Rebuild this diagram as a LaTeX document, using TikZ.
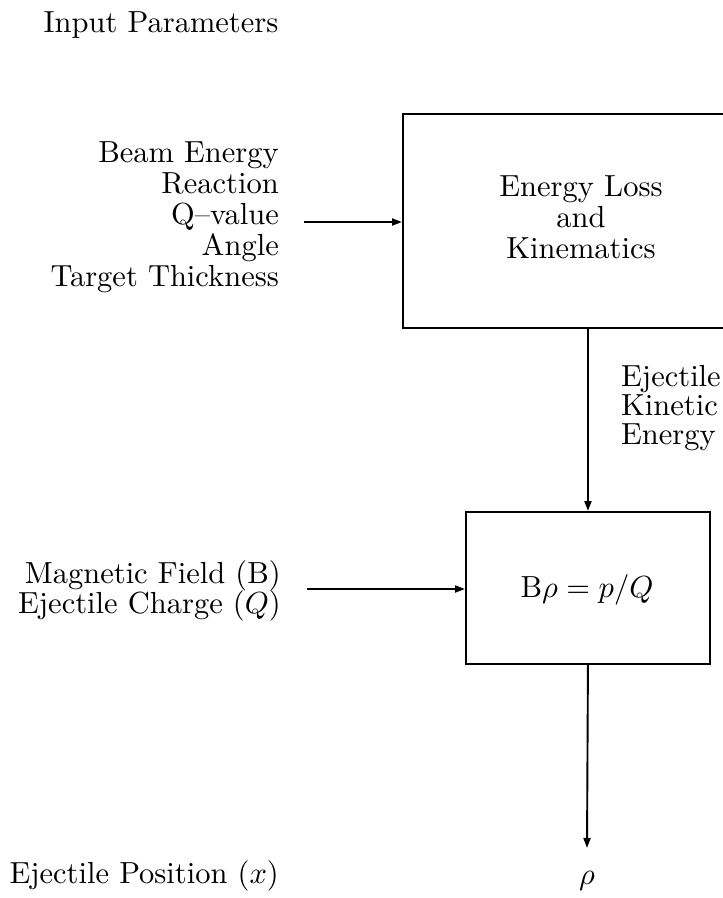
\documentclass[tikz,border=0pt]{standalone}
\usepackage{fix-cm}
\usepackage{graphicx}
\usetikzlibrary{arrows.meta}
\newcommand\sctxt[1]{\scalebox{3.05}{#1}}
\begin{document}
\begin{tikzpicture}[x=1pt,y=-1pt,
  lbl/.style={inner sep=0pt,font=\fontsize{10}{12}\selectfont},
  box/.style={draw,line width=1.9pt,inner sep=0pt},
  conn/.style={line width=1.9pt,-{Triangle[length=10pt,width=7pt]}}]
\useasboundingbox (0,0) rectangle (723,898);

% title
\node[lbl,anchor=base] (title) at (161,32) {\sctxt{Input Parameters}};

% first input group
\node[lbl,anchor=base east] (beam)  at (279,162) {\sctxt{Beam Energy}};
\node[lbl,anchor=base east] (reac)  at (279,193) {\sctxt{Reaction}};
\node[lbl,anchor=base east] (qval)  at (279,224) {\sctxt{Q--value}};
\node[lbl,anchor=base east] (angle) at (279,255) {\sctxt{Angle}};
\node[lbl,anchor=base east] (thick) at (279,286) {\sctxt{Target Thickness}};

% kinematics box (extends past right edge)
\node[box,anchor=north west,minimum width=358pt,minimum height=214pt] (kin) at (402,113) {};
\node[lbl,anchor=base] (kin1) at (581,196) {\sctxt{Energy Loss}};
\node[lbl,anchor=base] (kin2) at (581,227) {\sctxt{and}};
\node[lbl,anchor=base] (kin3) at (581,258) {\sctxt{Kinematics}};

\coordinate (in1) at (304,222);
\draw[conn] (in1) -- (in1 -| kin.west);

% ejectile kinetic energy label
\node[lbl,anchor=base west] (ej1) at (621,386) {\sctxt{Ejectile}};
\node[lbl,anchor=base west] (ej2) at (621,415) {\sctxt{Kinetic}};
\node[lbl,anchor=base west] (ej3) at (621,444) {\sctxt{Energy}};

% B rho box
\node[box,anchor=north west,minimum width=244pt,minimum height=152pt] (brho) at (465,511) {};
\node[lbl,anchor=base] (brhotxt) at (587,597) {\sctxt{B$\rho = p/Q$}};

\draw[conn] (brho.north |- kin.south) -- (brho.north);

% second input group
\node[lbl,anchor=base east] (mag) at (281,583) {\sctxt{Magnetic Field (B)}};
\node[lbl,anchor=base east] (chg) at (281,613) {\sctxt{Ejectile Charge ($Q$)}};

\coordinate (in2) at (307,589);
\draw[conn] (in2) -- (in2 -| brho.west);

% output
\coordinate (outend) at (587,848);
\draw[conn] (brho.south) -- (outend);
\node[lbl,anchor=base] (rho) at (587,884) {\sctxt{$\rho$}};
\node[lbl,anchor=base east] (pos) at (279,883) {\sctxt{Ejectile Position ($x$)}};
\end{tikzpicture}
\end{document}
